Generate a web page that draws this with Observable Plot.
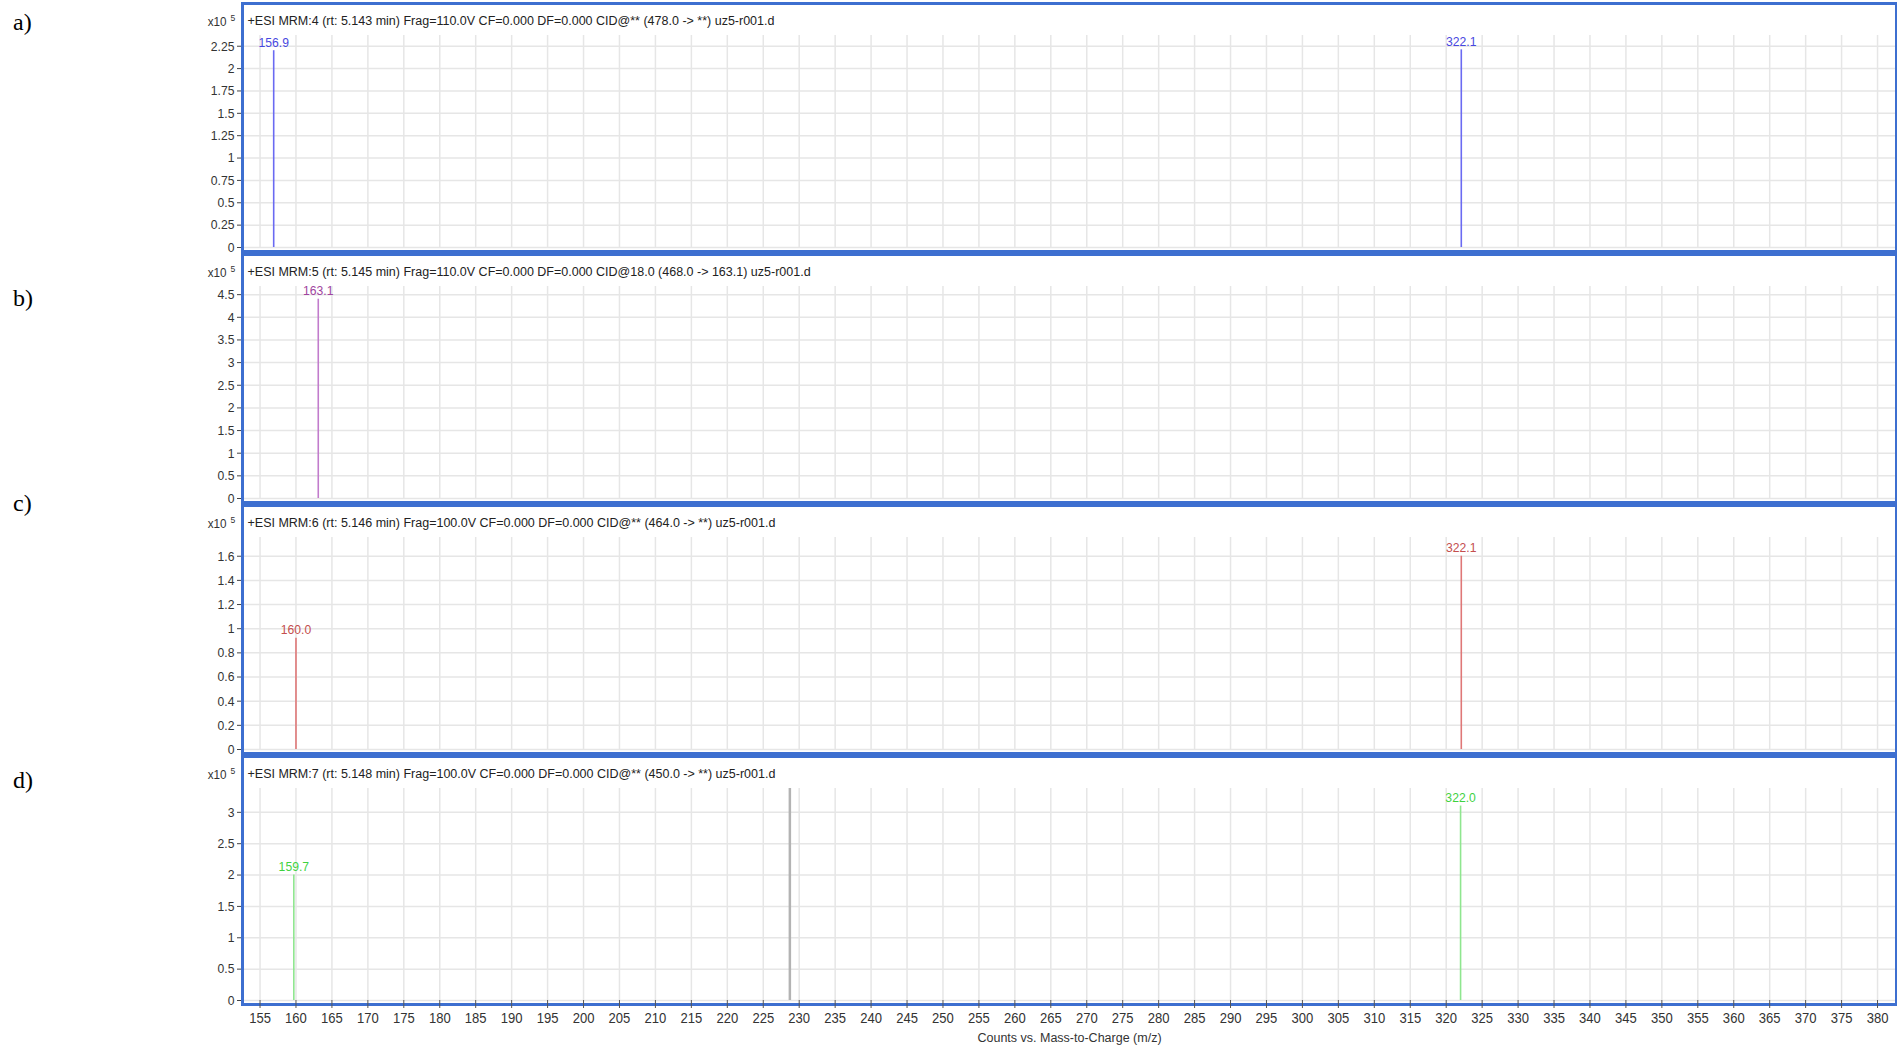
<!DOCTYPE html>
<html>
<head>
<meta charset="utf-8">
<script src="https://cdn.jsdelivr.net/npm/d3@7"></script>
<script src="https://cdn.jsdelivr.net/npm/@observablehq/plot@0.6"></script>
<style>
  html, body { margin: 0; padding: 0; background: #fff; }
  #wrap { position: relative; width: 1897px; height: 1048px; overflow: hidden; background: #fff; }
  .panel { position: absolute; left: 0; }
  .tag { position: absolute; left: 13px; font-family: "Liberation Serif", "Times New Roman", serif; font-size: 24px; color: #000; line-height: 1; }
</style>
</head>
<body>
<div id="wrap"></div>
<script>
// ---------- data ----------
const panelTags = ["a)", "b)", "c)", "d)"];
const panelTitles = [
  "+ESI MRM:4 (rt: 5.143 min) Frag=110.0V CF=0.000 DF=0.000 CID@** (478.0 -> **) uz5-r001.d",
  "+ESI MRM:5 (rt: 5.145 min) Frag=110.0V CF=0.000 DF=0.000 CID@18.0 (468.0 -> 163.1) uz5-r001.d",
  "+ESI MRM:6 (rt: 5.146 min) Frag=100.0V CF=0.000 DF=0.000 CID@** (464.0 -> **) uz5-r001.d",
  "+ESI MRM:7 (rt: 5.148 min) Frag=100.0V CF=0.000 DF=0.000 CID@** (450.0 -> **) uz5-r001.d"
];
const mzTicks = [155, 160, 165, 170, 175, 180, 185, 190, 195, 200, 205, 210, 215, 220, 225, 230,
  235, 240, 245, 250, 255, 260, 265, 270, 275, 280, 285, 290, 295, 300, 305, 310, 315, 320,
  325, 330, 335, 340, 345, 350, 355, 360, 365, 370, 375, 380];
const xDomain = [152.7, 382.5];
const xLabel = "Counts vs. Mass-to-Charge (m/z)";
const yScaleText = "x10";
const yScaleExp = "5";

const yTicksA = [0, 0.25, 0.5, 0.75, 1, 1.25, 1.5, 1.75, 2, 2.25];
const yTicksB = [0, 0.5, 1, 1.5, 2, 2.5, 3, 3.5, 4, 4.5];
const yTicksC = [0, 0.2, 0.4, 0.6, 0.8, 1, 1.2, 1.4, 1.6];
const yTicksD = [0, 0.5, 1, 1.5, 2, 2.5, 3];
const yMaxA = 2.37, yMaxB = 4.68, yMaxC = 1.755, yMaxD = 3.38;

const peakMzA = [156.9, 322.1];
const peakIntA = [2.20, 2.21];
const peakLabelA = ["156.9", "322.1"];

const peakMzB = [163.1];
const peakIntB = [4.40];
const peakLabelB = ["163.1"];

const peakMzC = [160.0, 322.1];
const peakIntC = [0.92, 1.60];
const peakLabelC = ["160.0", "322.1"];

const peakMzD = [159.7, 322.0];
const peakIntD = [2.00, 3.10];
const peakLabelD = ["159.7", "322.0"];

const markerMzD = [228.7];

// ---------- rendering ----------
const FONT = '"Liberation Sans", Arial, sans-serif';
const wrap = document.getElementById("wrap");

const panels = [
  {ticks: yTicksA, yMax: yMaxA, mz: peakMzA, v: peakIntA, lab: peakLabelA, line: "#6a6af2", text: "#4747e0", marker: []},
  {ticks: yTicksB, yMax: yMaxB, mz: peakMzB, v: peakIntB, lab: peakLabelB, line: "#c27ccc", text: "#a0449e", marker: []},
  {ticks: yTicksC, yMax: yMaxC, mz: peakMzC, v: peakIntC, lab: peakLabelC, line: "#df7777", text: "#c44e4e", marker: []},
  {ticks: yTicksD, yMax: yMaxD, mz: peakMzD, v: peakIntD, lab: peakLabelD, line: "#8fe68f", text: "#3fd23f", marker: markerMzD}
];
const svgTops = [1, 252, 503, 754];
const tagTops = [10, 286, 491, 768];

// narrow the short labels horizontally, like the source rendering
function narrow(svg, factor) {
  svg.querySelectorAll("text").forEach(t => {
    if (t.textContent.length > 12) return;
    const len = t.getComputedTextLength();
    if (len > 0) {
      t.setAttribute("textLength", (len * factor).toFixed(2));
      t.setAttribute("lengthAdjust", "spacingAndGlyphs");
    }
  });
}

panels.forEach((p, i) => {
  const last = i === panels.length - 1;
  const H = last ? 294 : 251;
  const mT = 34, plotH = 212;
  const peaks = p.mz.map((m, k) => ({mz: m, v: p.v[k], label: p.lab[k]}));
  const marks = [
    Plot.gridX({ticks: mzTicks, stroke: "#e6e6e6", strokeOpacity: 1, strokeWidth: 1.5}),
    Plot.gridY({ticks: p.ticks, stroke: "#e6e6e6", strokeOpacity: 1, strokeWidth: 1.5}),
    Plot.axisY({ticks: p.ticks, tickSize: 6, tickPadding: 3, tickFormat: d => String(d),
      fontSize: 13.5, fill: "#333", stroke: "#444", label: null}),
    Plot.ruleX(p.marker, {stroke: "#b3b3b3", strokeWidth: 2.5}),
    Plot.ruleX(peaks, {x: "mz", y: "v", stroke: p.line, strokeWidth: 1.6}),
    Plot.text(peaks, {x: "mz", y: "v", text: "label", dy: -4, lineAnchor: "bottom",
      fill: p.text, fontSize: 13.5}),
    Plot.text([panelTitles[i]], {frameAnchor: "top-left", dx: 4, dy: -15, textAnchor: "start",
      lineAnchor: "middle", fill: "#222", fontSize: 12.5}),
    Plot.text([yScaleText], {frameAnchor: "top-left", dx: -17, dy: -14, textAnchor: "end",
      lineAnchor: "middle", fill: "#333", fontSize: 13}),
    Plot.text([yScaleExp], {frameAnchor: "top-left", dx: -13, dy: -18, textAnchor: "start",
      lineAnchor: "middle", fill: "#333", fontSize: 9.5}),
    Plot.frame({stroke: "#3d6fd0", strokeWidth: 3, insetTop: -32, insetBottom: -4, insetLeft: -1, insetRight: -1})
  ];
  if (last) {
    marks.push(
      Plot.axisX({ticks: mzTicks, tickSize: 8, tickPadding: 4, fontSize: 14.5, fill: "#333",
        stroke: "#555", label: null}),
      Plot.text([xLabel], {frameAnchor: "bottom", dy: 37, lineAnchor: "middle", fill: "#333", fontSize: 12.5})
    );
  }
  const chart = Plot.plot({
    width: 1897,
    height: H,
    marginLeft: 243,
    marginRight: 2,
    marginTop: mT,
    marginBottom: H - mT - plotH,
    x: {domain: xDomain, axis: null},
    y: {domain: [0, p.yMax], axis: null},
    style: {fontFamily: FONT, background: "transparent", overflow: "visible"},
    marks
  });
  chart.classList.add("panel");
  chart.style.top = svgTops[i] + "px";
  wrap.appendChild(chart);
  narrow(chart, 0.9);

  const tag = document.createElement("div");
  tag.className = "tag";
  tag.textContent = panelTags[i];
  tag.style.top = tagTops[i] + "px";
  wrap.appendChild(tag);
});
</script>
</body>
</html>
